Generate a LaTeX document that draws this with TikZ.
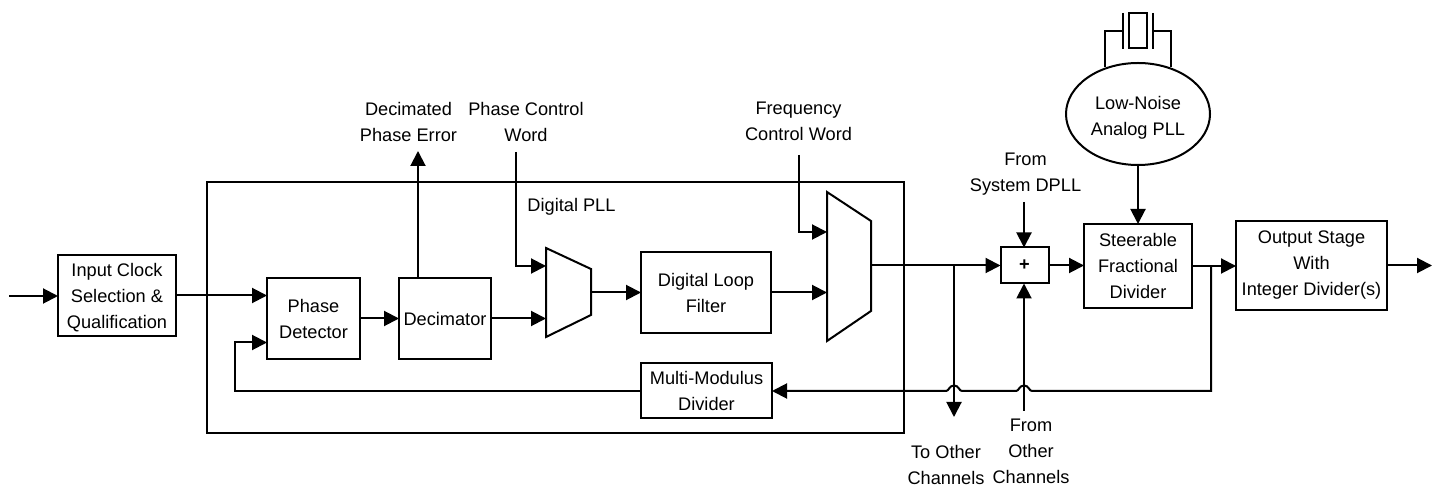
\documentclass[tikz,border=0pt]{standalone}
\usepackage{fontspec}
\setmainfont{Liberation Sans}
\usetikzlibrary{arrows.meta,calc,shapes.geometric}
\tikzset{
  wire/.style={line width=1pt,line cap=butt,line join=miter},
  arr/.style={wire,-{Triangle[length=7.5pt,width=7.5pt]}},
  blockbox/.style={draw,line width=1pt,rectangle,inner sep=0pt,outer sep=0pt,align=center,font=\lbl},
  lab/.style={inner sep=0pt,outer sep=0pt,align=center,font=\lbl},
}
\newcommand{\lbl}{\fontsize{9.1}{13}\selectfont}
\begin{document}
\begin{tikzpicture}[x=0.5pt,y=-0.5pt]
\useasboundingbox (0,0) rectangle (1440,491);
% frame
\node[blockbox,minimum width=348.5pt,minimum height=125.5pt] (frame) at (555.5,307.5) {};
% blocks
\node[blockbox,minimum width=59pt,minimum height=40.5pt] (input) at (117,295.5) {\rule{0pt}{8.6pt}Input Clock\\Selection \&\\Qualification};
\node[blockbox,minimum width=46.5pt,minimum height=40.5pt] (pd) at (313.5,318.5) {Phase\\Detector};
\node[blockbox,minimum width=46pt,minimum height=40.5pt] (dec) at (445,318.5) {Decimator};
\node[blockbox,minimum width=65pt,minimum height=40.5pt] (dlf) at (706,292.5) {Digital Loop\\Filter};
\node[blockbox,minimum width=65.5pt,minimum height=27.5pt] (mmd) at (706.5,391) {Multi-Modulus\\Divider};
\node[blockbox,minimum width=24pt,minimum height=18pt] (sum) at (1024.5,265.5) {\textbf{+}};
\node[blockbox,minimum width=54pt,minimum height=42pt] (sfd) at (1138,266) {Steerable\\Fractional\\Divider};
\node[blockbox,minimum width=75.5pt,minimum height=44.5pt] (out) at (1311.5,265.5) {Output Stage\\With\\Integer Divider(s)};
\node[draw,line width=1pt,ellipse,inner sep=0pt,outer sep=0pt,align=center,font=\lbl,minimum width=72pt,minimum height=51pt] (apll) at (1138,114) {\rule{0pt}{10pt}Low-Noise\\Analog PLL};
% muxes
\coordinate (m1a) at (546,248); \coordinate (m1b) at (591,269);
\coordinate (m1c) at (591,315); \coordinate (m1d) at (546,337);
\draw[wire] (m1a) -- (m1b) -- (m1c) -- (m1d) -- cycle;
\coordinate (m2a) at (827,192); \coordinate (m2b) at (871,221);
\coordinate (m2c) at (871,311); \coordinate (m2d) at (827,341);
\draw[wire] (m2a) -- (m2b) -- (m2c) -- (m2d) -- cycle;
% crystal
\coordinate (pl1t) at (1123,13); \coordinate (pl1b) at (1123,49);
\coordinate (pl2t) at (1153,13); \coordinate (pl2b) at (1153,49);
\draw[wire] (pl1t) -- (pl1b);
\draw[wire] (pl2t) -- (pl2b);
\draw[wire] (1129,13) rectangle (1147,48.5);
\coordinate (xl) at (1105,67); \coordinate (xr) at (1171,67);
\draw[wire] (xl) |- (1123,31);
\draw[wire] (xr) |- (1153,31);
% labels
\node[lab] (tde) at (408.5,121.5) {Decimated\\Phase Error};
\node[lab] (tpc) at (526,121.5) {Phase Control\\Word};
\node[lab] (tfc) at (798.5,121.5) {Frequency\\Control Word};
\node[lab] (tpll) at (571.5,207) {Digital PLL};
\node[lab] (tsys) at (1025.5,174) {From\\System DPLL};
\node[lab] (tto) at (946,465) {To Other\\Channels};
\node[lab] (tfrom) at (1031,451.5) {From\\Other\\Channels};
% free ends
\coordinate (cin) at (9,296);
\coordinate (cdec) at (418,278);
\coordinate (cdect) at (418,151);
\coordinate (cpc) at (516,152);
\coordinate (cfc) at (799,155);
\coordinate (csys) at (1024,202);
\coordinate (cfrm) at (1024,411);
\coordinate (cto) at (954,417);
\coordinate (cend) at (1432,266);
\coordinate (j1) at (954,391);
\coordinate (j2) at (1024,391);
% connectors
\draw[arr] (cin) -- (cin -| input.west);
\draw[arr] (input.east) -- (input.east -| pd.west);
\draw[arr] (pd.east) -- (dec.west);
\draw[arr] (cdec) -- (cdect);
\draw[arr] (dec.east) -- (dec.east -| m1a);
\draw[arr] (cpc) |- (546,266);
\draw[arr] (m1b |- dlf.west) -- (dlf.west);
\draw[arr] (dlf.east) -- (dlf.east -| m2a);
\draw[arr] (cfc) |- (827,232);
\draw[arr] (m2b |- sum.west) -- (sum.west);
\draw[arr] (csys) -- (csys |- sum.north);
\draw[arr] (cfrm) -- (cfrm |- sum.south);
\draw[arr] (sum.east) -- (sfd.west |- sum.east);
\draw[arr] (apll.south) -- (sfd.north);
\draw[arr] (sfd.east) -- (sfd.east -| out.west);
\draw[arr] (out.east) -- (cend |- out.east);
\draw[arr] (954,266) -- (cto);
\draw[arr] (1211,266) -- (1211,391) -- ($(j2)+(8,0)$)
  .. controls ($(j2)+(5,0)$) and ($(j2)+(5,-5.5)$) .. ($(j2)+(0,-5.5)$)
  .. controls ($(j2)+(-5,-5.5)$) and ($(j2)+(-5,0)$) .. ($(j2)+(-8,0)$)
  -- ($(j1)+(8,0)$)
  .. controls ($(j1)+(5,0)$) and ($(j1)+(5,-5.5)$) .. ($(j1)+(0,-5.5)$)
  .. controls ($(j1)+(-5,-5.5)$) and ($(j1)+(-5,0)$) .. ($(j1)+(-8,0)$)
  -- (mmd.east);
\draw[arr] (mmd.west) -- (235,391) |- (267,342.5);
\end{tikzpicture}
\end{document}
